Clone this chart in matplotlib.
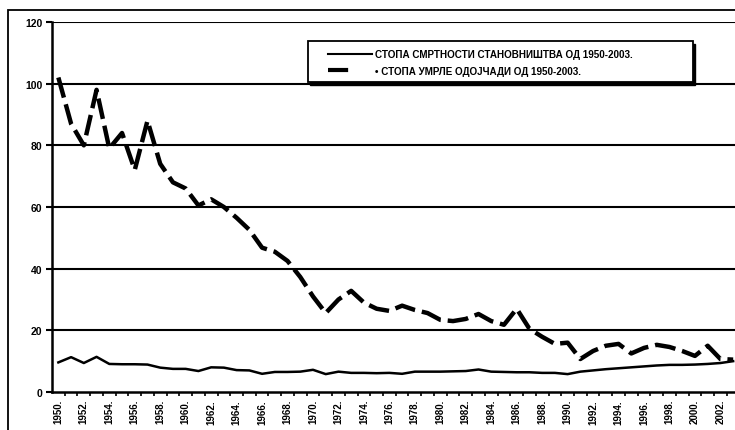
import matplotlib
matplotlib.use("Agg")
import matplotlib.pyplot as plt
from matplotlib.lines import Line2D
from matplotlib.patches import Rectangle

plt.rcParams['font.family'] = ['Liberation Sans', 'DejaVu Sans']
plt.rcParams['lines.scale_dashes'] = False

years = list(range(1950, 2004))
tick_years = list(range(1950, 2004, 2))
tick_labels = [f"{y}." for y in tick_years]
y_ticks = [0, 20, 40, 60, 80, 100, 120]

general = [9.6, 11.3, 9.4, 11.4, 9.1, 9.0, 9.0, 8.9, 7.9, 7.5,
           7.5, 6.8, 8.0, 7.9, 7.1, 7.0, 5.9, 6.5, 6.5, 6.6,
           7.2, 5.8, 6.6, 6.2, 6.2, 6.1, 6.2, 5.9, 6.6, 6.6,
           6.6, 6.7, 6.8, 7.3, 6.6, 6.5, 6.4, 6.4, 6.2, 6.2,
           5.8, 6.6, 7.0, 7.4, 7.7, 8.0, 8.3, 8.6, 8.8, 8.8,
           8.9, 9.1, 9.4, 10.0]
infant = [102, 87, 80, 98, 79, 84, 72, 88, 74, 68,
          66, 60.5, 62.5, 60, 56.5, 52.6, 46.8, 45.5, 42.5, 37.3,
          31, 25.6, 30, 32.8, 29, 27, 26.3, 28, 26.6, 25.6,
          23.4, 23, 23.7, 25.3, 23, 21.8, 27, 20.5, 17.9, 15.6,
          16, 10.7, 13.3, 15, 15.6, 12.5, 14.3, 15.3, 14.6, 13.3,
          11.7, 15, 10.7, 10.5]

label_general = "СТОПА СМРТНОСТИ СТАНОВНИШТВА ОД 1950-2003."
label_infant = "• СТОПА УМРЛЕ ОДОЈЧАДИ ОД 1950-2003."

W, H = 735, 431
fig = plt.figure(figsize=(W / 100, H / 100), dpi=100)
fig.patch.set_facecolor('white')

# outer chart border (cropped at right and bottom)
fig.patches.append(Rectangle((8 / W, -0.2), 1.2, 1 - 11 / H + 0.2,
                             transform=fig.transFigure, fill=False,
                             edgecolor='black', linewidth=1.3))

AX_W, AX_H = 687.5, 370.0
ax = fig.add_axes([52 / W, 38 / H, AX_W / W, AX_H / H])
ax.set_xlim(1949.5, 2003.5)
ax.set_ylim(0, 120)

for v in y_ticks[1:]:
    ax.axhline(v, color='black', linewidth=1.5, zorder=1)

ax.plot(years, general, color='black', linewidth=1.8, zorder=3)
ax.plot(years, infant, color='black', linewidth=3.2, dashes=(15, 5),
        solid_capstyle='butt', dash_capstyle='butt', zorder=3)

for s in ['top', 'right']:
    ax.spines[s].set_visible(False)
ax.spines['left'].set_linewidth(1.8)
ax.spines['bottom'].set_linewidth(1.8)

ax.set_yticks(y_ticks)
ax.set_yticklabels([str(v) for v in y_ticks], fontsize=7.5, fontweight='bold')
ax.tick_params(axis='y', length=4, width=1.5, pad=3)

ax.set_xticks(tick_years)
ax.set_xticklabels(tick_labels, rotation=90, fontsize=7, fontweight='bold')
ax.tick_params(axis='x', which='major', length=0, pad=5)
ax.set_xticks([y + 0.5 for y in years[:-1]], minor=True)
ax.tick_params(axis='x', which='minor', length=3, width=1.2)

# legend box with shadow (pixel geometry of the reference)
def px_to_ax(x, y):
    return (x - 52) / AX_W, (393 - y) / AX_H

bx0, by1 = px_to_ax(308, 42)
bx1, by0 = px_to_ax(693, 83)
sx0, sy1 = px_to_ax(310, 45)
sx1, sy0 = px_to_ax(695, 86)
ax.add_patch(Rectangle((sx0, sy0), sx1 - sx0, sy1 - sy0, transform=ax.transAxes,
                       facecolor='black', edgecolor='black', zorder=6, clip_on=False))
ax.add_patch(Rectangle((bx0, by0), bx1 - bx0, by1 - by0, transform=ax.transAxes,
                       facecolor='white', edgecolor='black', linewidth=1.3,
                       zorder=7, clip_on=False))

handles = [
    Line2D([], [], color='black', linewidth=1.5),
    Line2D([], [], color='black', linewidth=3.0, dashes=(14.5, 60)),
]
lx, ly = px_to_ax(328, 50)
leg = ax.legend(handles, [label_general, label_infant],
                loc='upper left', bbox_to_anchor=(lx, ly),
                borderaxespad=0, borderpad=0,
                prop={'weight': 'bold', 'size': 7.1},
                handlelength=4.45, handletextpad=0.3, labelspacing=0.7,
                frameon=False)
leg.set_zorder(8)

fig.savefig("out.png", dpi=100)
